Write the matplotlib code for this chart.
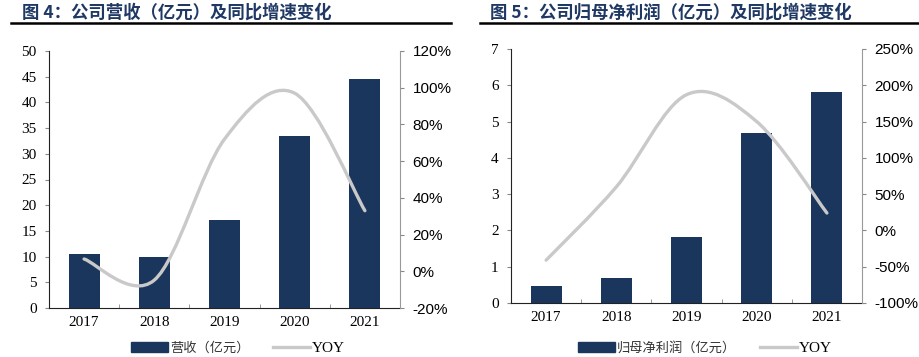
import numpy as np
import matplotlib.pyplot as plt
from matplotlib.path import Path
from matplotlib.patches import PathPatch
from matplotlib.lines import Line2D
from matplotlib.patches import Patch

# data
years = ['2017', '2018', '2019', '2020', '2021']
revenue = [10.5, 10.0, 17.2, 33.5, 44.6]          # 营收（亿元）
revenue_yoy = [6.7, -4.8, 72.0, 97.0, 33.0]        # %
profit = [0.46, 0.68, 1.82, 4.68, 5.81]            # 归母净利润（亿元）
profit_yoy = [-41.0, 60.0, 187.0, 150.0, 24.0]     # %

titles = ['图 4：公司营收（亿元）及同比增速变化', '图 5：公司归母净利润（亿元）及同比增速变化']
bar_labels = ['营收（亿元）', '归母净利润（亿元）']

BAR = '#1b365d'
LINE = '#c9c9c9'
TITLE = '#1f3864'
serif = 'Liberation Serif'
sans = 'Liberation Sans'
cjk = ['Noto Sans CJK SC', 'DejaVu Sans']
W, H = 919, 357


def smooth_path(x, y):
    # excel-style smoothed line: catmull-rom segments as cubic beziers
    pts = np.column_stack([x, y]).astype(float)
    ext = np.vstack([pts[0], pts, pts[-1]])
    verts = [pts[0]]
    codes = [Path.MOVETO]
    for i in range(1, len(ext) - 2):
        p0, p1, p2, p3 = ext[i - 1], ext[i], ext[i + 1], ext[i + 2]
        verts += [p1 + (p2 - p0) / 6, p2 - (p3 - p1) / 6, p2]
        codes += [Path.CURVE4] * 3
    return Path(verts, codes)


def panel(ax, bars, yoy, ylim, yticks, rlim, rticks, title, blabel, title_x, line_x0, leg_x):
    x = np.arange(len(years))
    ax.bar(x, bars, width=0.44, color=BAR, zorder=2)
    ax.set_xlim(-0.5, len(years) - 0.5)
    ax.set_ylim(*ylim)
    ax.set_yticks(yticks)
    ax.set_yticklabels([str(v) for v in yticks], fontfamily=serif, fontsize=11)
    ax.set_xticks(x)
    ax.set_xticklabels(years, fontfamily=serif, fontsize=11)
    ax.set_xticks(np.arange(-0.5, len(years)), minor=True)
    ax.tick_params(axis='x', which='major', length=0, pad=6)
    ax.tick_params(axis='x', which='minor', direction='in', length=3, color='#888888')
    ax.tick_params(axis='y', direction='out', length=3, color='#888888', pad=6)
    ax.spines['top'].set_visible(False)
    ax.spines['right'].set_visible(False)
    ax.spines['left'].set_color('#222222')
    ax.spines['bottom'].set_color('#222222')

    ax2 = ax.twinx()
    ax2.set_ylim(*rlim)
    ax2.set_yticks(rticks)
    ax2.set_yticklabels([f'{v}%' for v in rticks], fontfamily=sans, fontsize=11)
    ax2.tick_params(axis='y', direction='out', length=3, color='#888888', pad=6)
    for s in ['top', 'left', 'bottom']:
        ax2.spines[s].set_visible(False)
    ax2.spines['right'].set_color('#999999')
    ax2.add_patch(PathPatch(smooth_path(x, yoy), facecolor='none', edgecolor=LINE,
                            lw=2.4, capstyle='round', zorder=3))

    fig = ax.figure
    handles = [Patch(color=BAR), Line2D([], [], color=LINE, lw=2.4)]
    leg = fig.legend(handles, [blabel, 'YOY'], loc='center',
                     bbox_to_anchor=(leg_x / W, 1 - 348 / H), bbox_transform=fig.transFigure,
                     ncol=2, frameon=False, handlelength=2.8, handleheight=0.8,
                     handletextpad=0.15, columnspacing=1.8, fontsize=9.5,
                     borderpad=0, borderaxespad=0)
    leg.get_texts()[0].set_fontfamily(cjk)
    leg.get_texts()[0].set_color('#333333')
    leg.get_texts()[1].set_fontfamily(serif)
    leg.get_texts()[1].set_fontsize(11)

    fig.text(title_x, 1 - 13 / H, title, fontfamily=cjk, fontsize=12.5, fontweight='bold',
             color=TITLE, va='center', ha='left')
    fig.add_artist(Line2D([line_x0, line_x0 + 440 / W], [1 - 23 / H] * 2,
                          color='black', lw=1.8, transform=fig.transFigure))


fig = plt.figure(figsize=(9.19, 3.57), dpi=100)
ax_l = fig.add_axes([49 / W, 1 - 308 / H, 351 / W, 257 / H])
ax_r = fig.add_axes([511 / W, 1 - 303 / H, 351 / W, 254 / H])

panel(ax_l, revenue, revenue_yoy, (0, 50), list(range(0, 51, 5)),
      (-20, 120), list(range(-20, 121, 20)), titles[0], bar_labels[0], 22 / W, 11 / W, 238)
panel(ax_r, profit, profit_yoy, (0, 7), list(range(0, 8)),
      (-100, 250), list(range(-100, 251, 50)), titles[1], bar_labels[1], 490 / W, 480 / W, 705)

fig.savefig('out.png', dpi=100)
